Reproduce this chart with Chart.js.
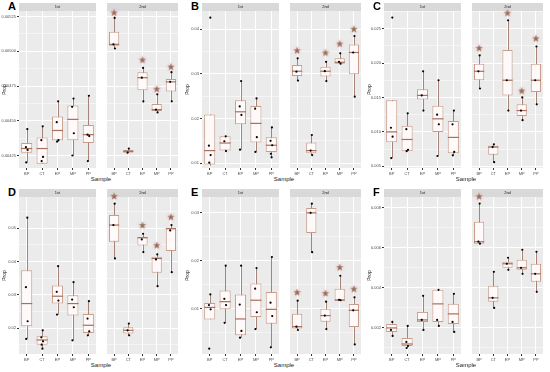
<!DOCTYPE html>
<html lang="en">
<head>
<meta charset="UTF-8">
<title>Prop by Sample</title>
<script src="https://cdn.jsdelivr.net/npm/chart.js@4"></script>
<style>
  body { margin: 0; width: 550px; height: 372px; background: #fff; overflow: hidden; position: relative;
         font-family: "Liberation Sans", Arial, sans-serif; }
  .panel { position: absolute; width: 183px; height: 186px; }
  .letter { position: absolute; left: 8px; top: 0px; font-size: 11px; font-weight: bold; color: #000; }
  .panel canvas { position: absolute; top: 3px; }
  .xtitle { position: absolute; left: 19px; width: 164px; top: 176px; text-align: center; font-size: 6px; color: #1A1A1A; }
</style>
</head>
<body>

<script>
const categories = ['BP', 'CT', 'EP', 'MP', 'PP'];
const facets = ['1st', '2nd'];

// boxes: [min, q1, median, q3, max] per category
const boxA1 = [[0.00420, 0.00427, 0.00430, 0.00434, 0.00444], [0.00419, 0.00419, 0.00430, 0.00438, 0.00446], [0.00435, 0.00436, 0.00443, 0.00453, 0.00464], [0.00425, 0.00436, 0.00451, 0.00461, 0.00466], [0.00421, 0.00434, 0.00440, 0.00447, 0.00468]];
const boxA2 = [[0.00502, 0.00504, 0.00505, 0.00514, 0.00525], [0.00427, 0.00427, 0.00428, 0.00429, 0.00430], [0.00463, 0.00472, 0.00481, 0.00485, 0.00488], [0.00456, 0.00457, 0.00458, 0.00462, 0.00469], [0.00464, 0.00471, 0.00478, 0.00480, 0.00485]];
const ptsA1 = [[0.00444, 0.00431, 0.00429, 0.00420], [0.00446, 0.00436, 0.00424, 0.00421], [0.00464, 0.00449, 0.00436, 0.00435], [0.00466, 0.00460, 0.00441, 0.00425], [0.00468, 0.00440, 0.00439, 0.00421]];
const ptsA2 = [[0.00524, 0.00505, 0.00502], [0.00430, 0.00427], [0.00488, 0.00481, 0.00464], [0.00469, 0.00458, 0.00456], [0.00485, 0.00478, 0.00464]];
const starsA = [0.00528, null, 0.00494, 0.00473, 0.00489];
const ticksA = [0.00425, 0.0045, 0.00475, 0.005, 0.00525];
const rangeA = [0.00416, 0.00529];

const boxB1 = [[0.0094, 0.0097, 0.0128, 0.0209, 0.0209], [0.0127, 0.0128, 0.0145, 0.0160, 0.0160], [0.0130, 0.0187, 0.0215, 0.0241, 0.0284], [0.0125, 0.0146, 0.0189, 0.0228, 0.0245], [0.0113, 0.0125, 0.0140, 0.0158, 0.0180]];
const boxB2 = [[0.0285, 0.0295, 0.0306, 0.0320, 0.0335], [0.0118, 0.0122, 0.0128, 0.0146, 0.0163], [0.0284, 0.0294, 0.0306, 0.0316, 0.0327], [0.0322, 0.0323, 0.0326, 0.0335, 0.0346], [0.0249, 0.0299, 0.0348, 0.0366, 0.0385]];
const ptsB1 = [[0.0426, 0.0139, 0.0118, 0.0101], [0.0160, 0.0149, 0.0127], [0.0284, 0.0227, 0.0208, 0.0130], [0.0245, 0.0222, 0.0158, 0.0125], [0.0180, 0.0150, 0.0140, 0.0121, 0.0113]];
const ptsB2 = [[0.0335, 0.0305, 0.0285], [0.0163, 0.0128, 0.0118], [0.0327, 0.0306, 0.0284], [0.0346, 0.0327, 0.0323], [0.0385, 0.0348, 0.0249]];
const starsB = [0.0353, null, 0.0348, 0.0368, 0.0401];
const ticksB = [0.01, 0.02, 0.03, 0.04];
const rangeB = [0.0089, 0.0441];

const boxC1 = [[0.0062, 0.0085, 0.0100, 0.0146, 0.0146], [0.0072, 0.0072, 0.0089, 0.0109, 0.0127], [0.0131, 0.0147, 0.0153, 0.0162, 0.0188], [0.0065, 0.0100, 0.0119, 0.0138, 0.0175], [0.0066, 0.0069, 0.0092, 0.0116, 0.0131]];
const boxC2 = [[0.0163, 0.0175, 0.0188, 0.0199, 0.0211], [0.0056, 0.0067, 0.0078, 0.0080, 0.0082], [0.0131, 0.0153, 0.0175, 0.0219, 0.0262], [0.0117, 0.0123, 0.0131, 0.0140, 0.0150], [0.0140, 0.0158, 0.0175, 0.0199, 0.0224]];
const ptsC1 = [[0.0266, 0.0106, 0.0093, 0.0062], [0.0127, 0.0104, 0.0074, 0.0072], [0.0188, 0.0153, 0.0131], [0.0175, 0.0125, 0.0111, 0.0065], [0.0131, 0.0111, 0.0071, 0.0066]];
const ptsC2 = [[0.0211, 0.0188, 0.0163], [0.0082, 0.0078, 0.0056], [0.0262, 0.0175, 0.0131], [0.0150, 0.0131, 0.0117], [0.0224, 0.0175, 0.0140]];
const starsC = [0.0222, null, 0.0273, 0.0160, 0.0236];
const ticksC = [0.005, 0.010, 0.015, 0.020, 0.025];
const rangeC = [0.00476, 0.02755];

const boxD1 = [[0.0168, 0.0206, 0.0274, 0.0374, 0.0531], [0.0139, 0.0151, 0.0165, 0.0176, 0.0194], [0.0241, 0.0274, 0.0296, 0.0328, 0.0386], [0.0164, 0.0238, 0.0274, 0.0299, 0.0338], [0.0179, 0.0186, 0.0209, 0.0243, 0.0281]];
const boxD2 = [[0.0409, 0.0459, 0.0509, 0.0539, 0.0573], [0.0179, 0.0184, 0.0194, 0.0203, 0.0214], [0.0428, 0.0448, 0.0471, 0.0473, 0.0483], [0.0326, 0.0366, 0.0409, 0.0414, 0.0421], [0.0368, 0.0431, 0.0498, 0.0501, 0.0509]];
const ptsD1 = [[0.0531, 0.0323, 0.0221, 0.0168], [0.0194, 0.0173, 0.0161, 0.0151, 0.0139], [0.0386, 0.0309, 0.0283, 0.0241], [0.0338, 0.0286, 0.0263, 0.0164], [0.0281, 0.0229, 0.0191, 0.0179]];
const ptsD2 = [[0.0573, 0.0509, 0.0409], [0.0214, 0.0194, 0.0179], [0.0483, 0.0466, 0.0428], [0.0421, 0.0406, 0.0326], [0.0509, 0.0493, 0.0368]];
const starsD = [0.0596, null, 0.0509, 0.0449, 0.0534];
const ticksD = [0.02, 0.03, 0.04, 0.05];
const rangeD = [0.0123, 0.0593];

const boxE1 = [[0.0078, 0.0078, 0.0103, 0.0112, 0.0130], [0.0071, 0.0099, 0.0115, 0.0138, 0.0190], [0.0040, 0.0045, 0.0079, 0.0130, 0.0190], [0.0058, 0.0083, 0.0118, 0.0153, 0.0185], [0.0020, 0.0069, 0.0099, 0.0135, 0.0208]];
const boxE2 = [[0.0056, 0.0059, 0.0063, 0.0090, 0.0117], [0.0218, 0.0258, 0.0300, 0.0310, 0.0319], [0.0058, 0.0073, 0.0086, 0.0100, 0.0115], [0.0118, 0.0118, 0.0118, 0.0142, 0.0169], [0.0026, 0.0062, 0.0097, 0.0110, 0.0124]];
const ptsE1 = [[0.0130, 0.0108, 0.0099, 0.0017], [0.0190, 0.0121, 0.0108, 0.0071], [0.0190, 0.0109, 0.0054, 0.0040], [0.0185, 0.0142, 0.0093, 0.0058], [0.0208, 0.0113, 0.0085, 0.0020]];
const ptsE2 = [[0.0117, 0.0063, 0.0056], [0.0319, 0.0300, 0.0218], [0.0115, 0.0086, 0.0058], [0.0169, 0.0119, 0.0118], [0.0124, 0.0097, 0.0026]];
const starsE = [0.0135, null, 0.0133, 0.0187, 0.0142];
const ticksE = [0.01, 0.02, 0.03];
const rangeE = [0.0006, 0.0333];

const boxF1 = [[0.0016, 0.0018, 0.0020, 0.0022, 0.0023], [0.0010, 0.0011, 0.0012, 0.0015, 0.0021], [0.0019, 0.0023, 0.0024, 0.0028, 0.0036], [0.0021, 0.0023, 0.0032, 0.0039, 0.0039], [0.0018, 0.0022, 0.0027, 0.0032, 0.0037]];
const boxF2 = [[0.0062, 0.0062, 0.0063, 0.0073, 0.0082], [0.0030, 0.0033, 0.0035, 0.0041, 0.0048], [0.0049, 0.0050, 0.0052, 0.0053, 0.0055], [0.0047, 0.0049, 0.0050, 0.0054, 0.0059], [0.0038, 0.0043, 0.0047, 0.0052, 0.0058]];
const ptsF1 = [[0.0023, 0.0019, 0.0016], [0.0021, 0.0013, 0.0011, 0.0010], [0.0036, 0.0024, 0.0019], [0.0039, 0.0024, 0.0021], [0.0037, 0.0023, 0.0018]];
const ptsF2 = [[0.0082, 0.0063, 0.0062], [0.0048, 0.0035, 0.0030], [0.0055, 0.0052, 0.0049], [0.0059, 0.0050, 0.0047], [0.0058, 0.0047, 0.0038]];
const starsF = [0.00857, null, null, null, null];
const ticksF = [0.002, 0.004, 0.006, 0.008];
const rangeF = [0.0007, 0.00853];

const panels = [
  { letter: 'A', left: 0,   top: 0,   boxes: [boxA1, boxA2], pts: [ptsA1, ptsA2], stars: starsA, ticks: ticksA, range: rangeA, digits: 5 },
  { letter: 'B', left: 183, top: 0,   boxes: [boxB1, boxB2], pts: [ptsB1, ptsB2], stars: starsB, ticks: ticksB, range: rangeB, digits: 2 },
  { letter: 'C', left: 365, top: 0,   boxes: [boxC1, boxC2], pts: [ptsC1, ptsC2], stars: starsC, ticks: ticksC, range: rangeC, digits: 3 },
  { letter: 'D', left: 0,   top: 186, boxes: [boxD1, boxD2], pts: [ptsD1, ptsD2], stars: starsD, ticks: ticksD, range: rangeD, digits: 2 },
  { letter: 'E', left: 183, top: 186, boxes: [boxE1, boxE2], pts: [ptsE1, ptsE2], stars: starsE, ticks: ticksE, range: rangeE, digits: 2 },
  { letter: 'F', left: 365, top: 186, boxes: [boxF1, boxF2], pts: [ptsF1, ptsF2], stars: starsF, ticks: ticksF, range: rangeF, digits: 3 }
];

const BOX = '#C79C8A';
const WHISKER = '#A68478';
const MEDIAN = '#A8705A';
const STAR = '#94705A';
const jitter = [0.04, -0.05, 0.06, -0.03, 0.02];

// filled five point star with a faint pink halo, used as point style
function starSprite() {
  const c = document.createElement('canvas');
  c.width = 12; c.height = 12;
  const g = c.getContext('2d');
  g.shadowColor = 'rgba(240,150,165,0.9)';
  g.shadowBlur = 3;
  g.fillStyle = STAR;
  g.beginPath();
  for (let i = 0; i < 10; i++) {
    const r = i % 2 ? 1.5 : 3.8;
    const a = -Math.PI / 2 + i * Math.PI / 5;
    const px = 6 + r * Math.cos(a), py = 6.4 + r * Math.sin(a);
    if (i) g.lineTo(px, py); else g.moveTo(px, py);
  }
  g.closePath();
  g.fill();
  return c;
}
const star = starSprite();

const boxPlugin = {
  id: 'boxLines',
  beforeDraw(chart, args, opts) {
    const { ctx, chartArea: a } = chart;
    ctx.save();
    ctx.fillStyle = '#EBEBEB';
    ctx.fillRect(a.left, a.top, a.width, a.height);
    // facet strip
    ctx.fillStyle = '#D9D9D9';
    ctx.fillRect(a.left, a.top - 8, a.width, 8);
    ctx.fillStyle = '#1A1A1A';
    ctx.font = '4px "Liberation Sans", Arial, sans-serif';
    ctx.textAlign = 'center';
    ctx.textBaseline = 'middle';
    ctx.fillText(opts.strip, a.left + a.width / 2, a.top - 4);
    ctx.restore();
  },
  beforeDatasetsDraw(chart, args, opts) {
    const { ctx } = chart;
    const x = chart.scales.x, y = chart.scales.y;
    ctx.save();
    ctx.strokeStyle = WHISKER;
    ctx.lineWidth = 1;
    opts.stats.forEach((s, i) => {
      const px = Math.round(x.getPixelForValue(i)) + 0.5;
      ctx.beginPath();
      ctx.moveTo(px, y.getPixelForValue(s[0]));
      ctx.lineTo(px, y.getPixelForValue(s[4]));
      ctx.stroke();
    });
    ctx.restore();
  },
  afterDatasetDraw(chart, args, opts) {
    if (args.index !== 0) return;
    const { ctx } = chart;
    const y = chart.scales.y;
    ctx.save();
    ctx.strokeStyle = MEDIAN;
    ctx.lineWidth = 1.2;
    args.meta.data.forEach((bar, i) => {
      const py = y.getPixelForValue(opts.stats[i][2]);
      ctx.beginPath();
      ctx.moveTo(bar.x - bar.width / 2, py);
      ctx.lineTo(bar.x + bar.width / 2, py);
      ctx.stroke();
    });
    ctx.restore();
  }
};

function makeFacet(canvas, p, f) {
  const withAxis = f === 0;
  const boxes = p.boxes[f];
  const points = [];
  p.pts[f].forEach((vals, i) => vals.forEach((v, j) => points.push({ x: i + jitter[j], y: v })));
  const stars = [];
  if (f === 1) p.stars.forEach((v, i) => { if (v !== null) stars.push({ x: i, y: v }); });

  const step = p.ticks[1] - p.ticks[0];
  const minor = [p.ticks[0] - step / 2].concat(p.ticks.map(t => t + step / 2))
    .filter(v => v > p.range[0] && v < p.range[1]);

  new Chart(canvas, {
    type: 'bar',
    data: {
      labels: categories,
      datasets: [
        { type: 'bar', data: boxes.map(b => [b[1], b[3]]), backgroundColor: '#FFF9F9', borderColor: BOX,
          borderWidth: 1, borderSkipped: false, grouped: false, barPercentage: 0.72, categoryPercentage: 1, order: 3 },
        { type: 'scatter', data: points, xAxisID: 'x2', yAxisID: 'y', pointRadius: 1.1, pointBorderWidth: 0,
          pointBackgroundColor: '#000000', order: 2 },
        { type: 'scatter', data: stars, xAxisID: 'x2', yAxisID: 'y', pointStyle: star, pointRadius: 4,
          clip: false, order: 1 }
      ]
    },
    options: {
      responsive: false,
      animation: false,
      devicePixelRatio: 1,
      events: [],
      layout: { padding: { top: 8, left: 0, right: 0, bottom: 0 } },
      plugins: {
        legend: { display: false },
        tooltip: { enabled: false },
        boxLines: { stats: boxes, strip: facets[f] }
      },
      scales: {
        x: {
          type: 'category', offset: true,
          grid: { color: '#FFFFFF', lineWidth: 1, offset: false, tickColor: '#333333', tickLength: 2 },
          border: { display: false },
          ticks: { font: { size: 4 }, color: '#4D4D4D', padding: 1, maxRotation: 0, autoSkip: false },
          afterFit: s => { s.height = 8; s.paddingLeft = 0; s.paddingRight = 0; }
        },
        x2: { type: 'linear', min: -0.5, max: 4.5, offset: false, grid: { offset: false }, display: false },
        y: {
          type: 'linear', position: 'left', min: p.range[0], max: p.range[1],
          grid: { color: '#FFFFFF', lineWidth: 1, drawTicks: withAxis, tickColor: '#333333', tickLength: 2 },
          border: { display: false },
          ticks: { display: withAxis, font: { size: 4 }, color: '#4D4D4D', padding: 1,
                   callback: v => v.toFixed(p.digits) },
          title: { display: withAxis, text: 'Prop', font: { size: 5 }, color: '#1A1A1A', padding: { top: 2, bottom: 0 } },
          afterBuildTicks: s => { s.ticks = p.ticks.map(v => ({ value: v })); },
          afterFit: s => { s.width = withAxis ? 19 : 0; s.paddingTop = 0; s.paddingBottom = 0; }
        },
        yMinor: {
          type: 'linear', position: 'left', min: p.range[0], max: p.range[1],
          grid: { color: '#FFFFFF', lineWidth: 0.5, drawTicks: false },
          border: { display: false },
          ticks: { display: false },
          afterBuildTicks: s => { s.ticks = minor.map(v => ({ value: v })); },
          afterFit: s => { s.width = 0; s.paddingTop = 0; s.paddingBottom = 0; }
        }
      }
    },
    plugins: [boxPlugin]
  });
}

panels.forEach(p => {
  const div = document.createElement('div');
  div.className = 'panel';
  div.style.left = p.left + 'px';
  div.style.top = p.top + 'px';
  document.body.appendChild(div);

  const letter = document.createElement('div');
  letter.className = 'letter';
  letter.textContent = p.letter;
  div.appendChild(letter);

  facets.forEach((name, f) => {
    const canvas = document.createElement('canvas');
    canvas.width = f === 0 ? 100 : 81;
    canvas.height = 173;
    canvas.style.left = (f === 0 ? 0 : 102) + 'px';
    div.appendChild(canvas);
    makeFacet(canvas, p, f);
  });

  const xt = document.createElement('div');
  xt.className = 'xtitle';
  xt.textContent = 'Sample';
  div.appendChild(xt);
});
</script>

</body>
</html>
